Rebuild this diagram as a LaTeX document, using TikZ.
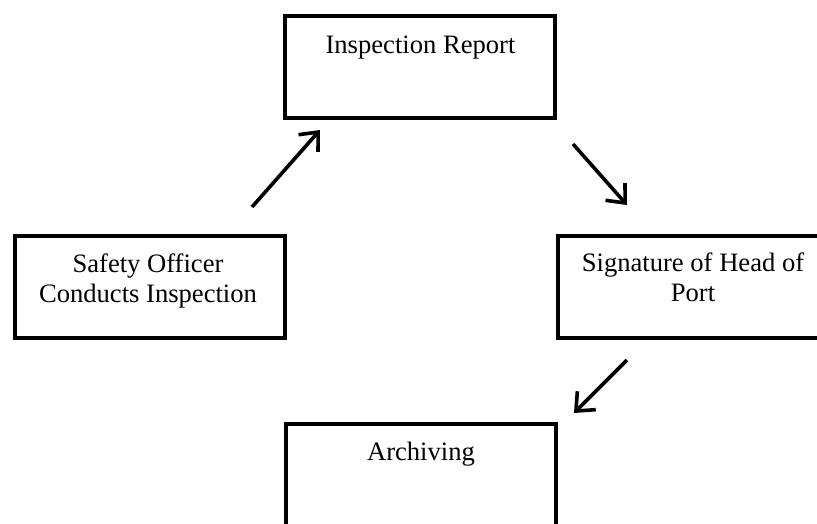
\documentclass[tikz,border=0pt]{standalone}
\usepackage{fontspec}
\setmainfont{Liberation Serif}
\usetikzlibrary{arrows.meta}
\begin{document}
\begin{tikzpicture}[x=1pt,y=-1pt,
  box/.style={draw=black, line width=4pt, minimum width=270pt, minimum height=102pt, inner sep=0pt},
  lbl/.style={inner sep=0pt, align=center, font=\fontsize{26.6}{30}\selectfont},
  flow/.style={line width=3.6pt, -{Straight Barb[length=15pt,width=26pt,line width=3.6pt]}}]
\useasboundingbox (0,0) rectangle (817,523);
\node[box] (ir) at (420,67) {};
\node[box] (so) at (149.5,286.5) {};
\node[box] (sig) at (692.5,287) {};
\node[box] (arc) at (420.5,474.5) {};
\node[lbl, anchor=base] (irt) at (420.5,53) {Inspection Report};
\node[lbl] (sot) at (148,281) {Safety Officer\\Conducts Inspection};
\node[lbl] (sigt) at (693,277) {Signature of Head of\\Port};
\node[lbl, anchor=base] (arct) at (421,460) {Archiving};
\coordinate (a1s) at (252,207);
\coordinate (a1e) at (320,130);
\coordinate (a2s) at (573,144);
\coordinate (a2e) at (627,205);
\coordinate (a3s) at (627,360);
\coordinate (a3e) at (574,413);
\draw[flow] (a1s) -- (a1e);
\draw[flow] (a2s) -- (a2e);
\draw[flow] (a3s) -- (a3e);
\end{tikzpicture}
\end{document}
